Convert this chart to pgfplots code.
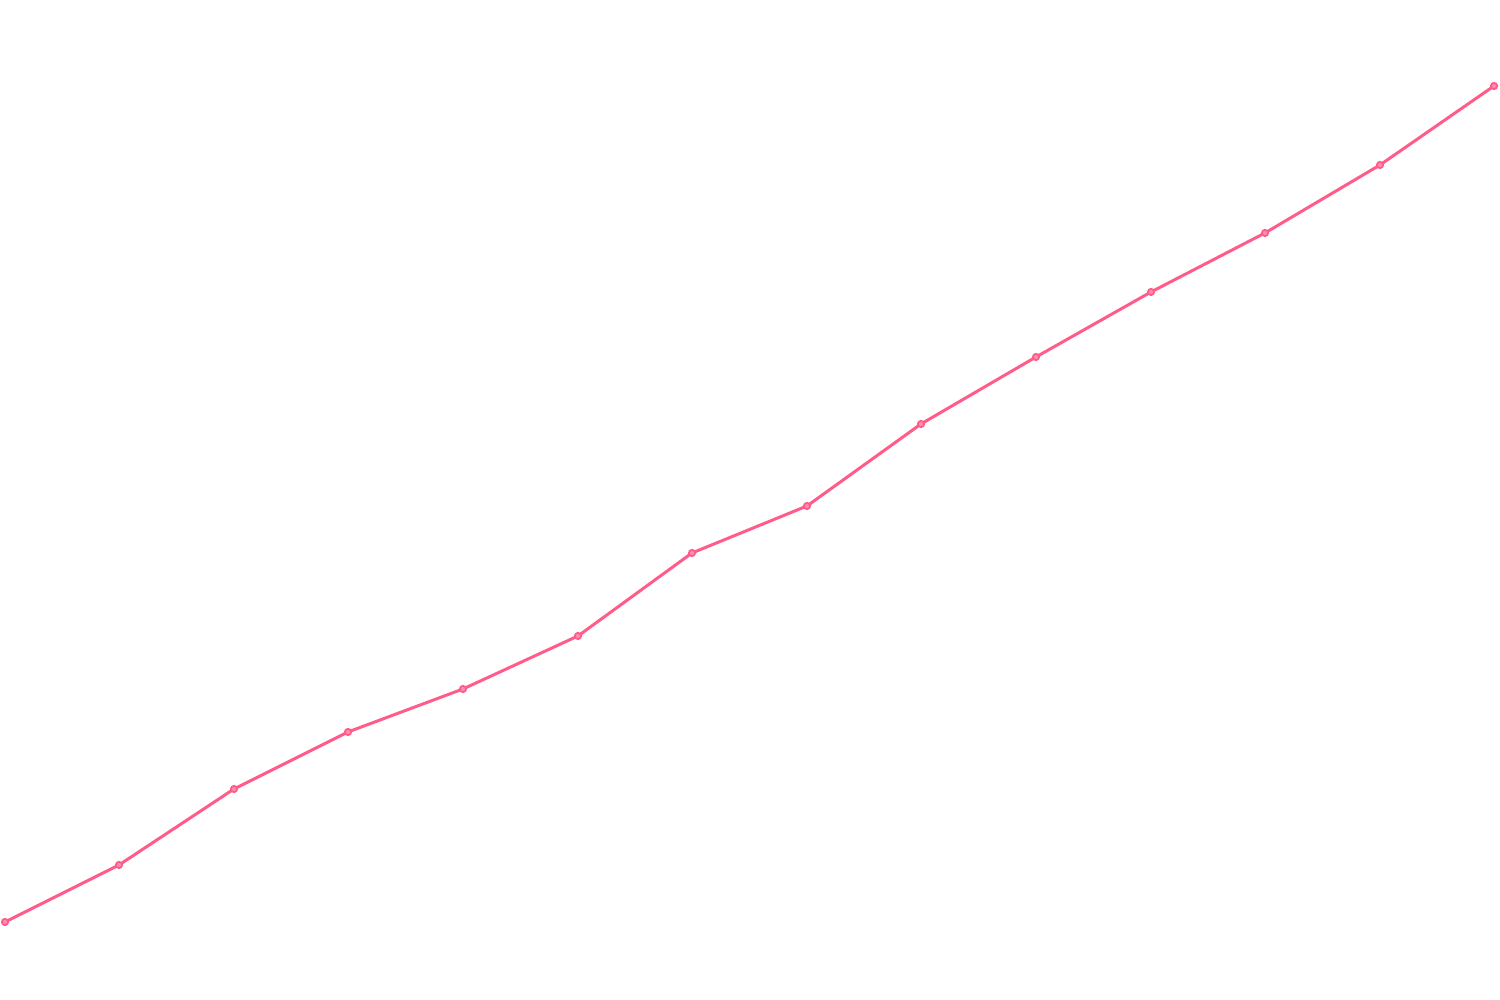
\documentclass[border=0pt]{standalone}
\usepackage{pgfplots}
\pgfplotsset{compat=1.18}
\definecolor{linepink}{RGB}{255,92,138}
\begin{document}
\begin{tikzpicture}
\begin{axis}[scale only axis, width=15cm, height=10cm,
  xmin=0, xmax=1500, ymin=0, ymax=1000,
  hide axis, clip=false]
\path (rel axis cs:0,0) rectangle (rel axis cs:1,1);
\addplot[color=linepink, line width=0.85pt, mark=*, mark size=0.9pt,
  mark options={fill=linepink!70!white, draw=linepink, line width=0.5pt}] coordinates{
	(5, 78)
	(119, 135)
	(234, 211)
	(348, 268)
	(463, 311)
	(578, 364)
	(692, 447)
	(807, 494)
	(921, 576)
	(1036, 643)
	(1151, 708)
	(1265, 767)
	(1380, 835)
	(1494, 914)
};
\end{axis}
\end{tikzpicture}
\end{document}
